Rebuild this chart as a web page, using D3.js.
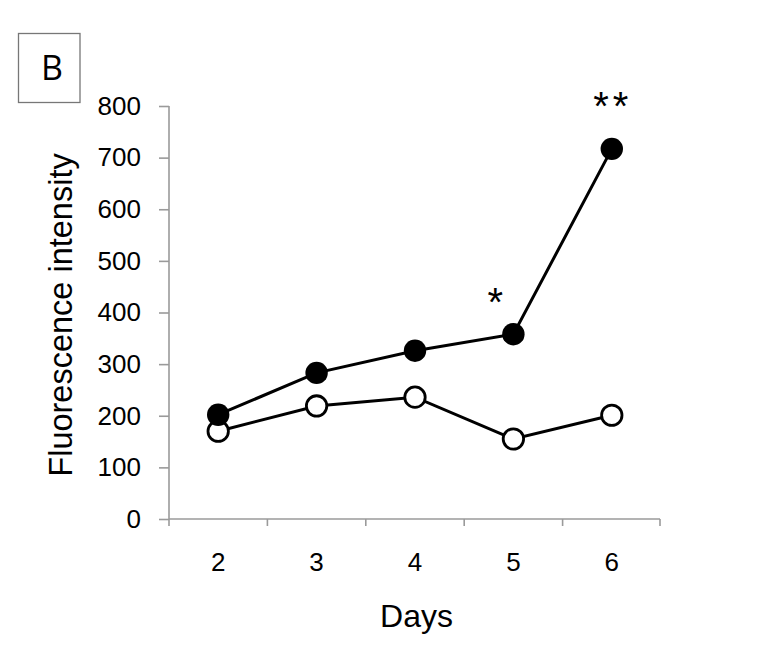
<!DOCTYPE html>
<html><head><meta charset="utf-8">
<script src="https://cdn.jsdelivr.net/npm/d3@7"></script>
<style>body{margin:0;background:#fff}</style>
</head><body>
<svg id="c" width="771" height="652"></svg>
<script>
const days = ["2","3","4","5","6"];
const filledValues = [202, 283, 326, 358, 717];
const openValues = [170, 219, 236, 155, 201];
const yTicks = [0,100,200,300,400,500,600,700,800];
const significance = [{day:"5", label:"*"},{day:"6", label:"**"}];

const svg = d3.select("#c");
const m = {l:169, r:661, t:106, b:519};
const x = d3.scaleBand().domain(days).range([m.l, m.r]);
const y = d3.scaleLinear().domain([0,800]).range([m.b, m.t]);
const font = "Liberation Sans, Arial, sans-serif";
const axisColor = "#9a9a9a";

// Y axis
const ya = svg.append("g").attr("transform",`translate(${m.l},0)`)
  .call(d3.axisLeft(y).tickValues(yTicks).tickSize(10).tickPadding(18));
ya.selectAll("path,line").attr("stroke",axisColor).attr("stroke-width",1.6);
ya.select(".domain").attr("d",`M0,${m.t}V${m.b}`);
ya.selectAll("text").attr("font-family",font).attr("font-size",26).attr("fill","#000");

// X axis
const xa = svg.append("g").attr("transform",`translate(0,${m.b})`)
  .call(d3.axisBottom(x).tickSize(0).tickPadding(34));
xa.selectAll(".tick line").remove();
xa.select(".domain").attr("d",`M${m.l},0H${m.r-1}`).attr("stroke",axisColor).attr("stroke-width",1.6);
xa.selectAll("text").attr("font-family",font).attr("font-size",26).attr("fill","#000");
const bounds = days.map(d=>x(d)).concat([m.r-1]);
xa.selectAll("line.bt").data(bounds).enter().append("line")
  .attr("x1",d=>d).attr("x2",d=>d).attr("y1",0).attr("y2",7)
  .attr("stroke",axisColor).attr("stroke-width",1.6);

const cx = d => x(d) + x.bandwidth()/2;
const line = d3.line().x((v,i)=>cx(days[i])).y(v=>y(v));

svg.append("path").attr("d", line(openValues)).attr("fill","none").attr("stroke","#000").attr("stroke-width",3);
svg.append("path").attr("d", line(filledValues)).attr("fill","none").attr("stroke","#000").attr("stroke-width",3);

svg.selectAll("circle.o").data(openValues).enter().append("circle")
  .attr("cx",(v,i)=>cx(days[i])).attr("cy",v=>y(v)).attr("r",10.2)
  .attr("fill","#fff").attr("stroke","#000").attr("stroke-width",2.8);
svg.selectAll("circle.f").data(filledValues).enter().append("circle")
  .attr("cx",(v,i)=>cx(days[i])).attr("cy",v=>y(v)).attr("r",11.2)
  .attr("fill","#000");

// significance
svg.selectAll("text.sig").data(significance).enter().append("text")
  .attr("x",d=> d.label.length>1 ? cx(d.day)+1 : cx(d.day)-18)
  .attr("y",d=> d.label.length>1 ? 120 : 316)
  .attr("text-anchor","middle").attr("font-family",font).attr("font-size",40)
  .attr("letter-spacing", d=> d.label.length>1 ? 4 : 0)
  .text(d=>d.label);

// axis titles
svg.append("text").attr("transform","translate(72,315) rotate(-90)")
  .attr("text-anchor","middle").attr("font-family",font).attr("font-size",32.5).text("Fluorescence intensity");
svg.append("text").attr("x",416.5).attr("y",627).attr("text-anchor","middle")
  .attr("font-family",font).attr("font-size",32).text("Days");

// panel label
svg.append("rect").attr("x",18.5).attr("y",33.5).attr("width",61.5).attr("height",69)
  .attr("fill","#fff").attr("stroke","#777").attr("stroke-width",1.3);
svg.append("text").attr("x",52).attr("y",79.5).attr("text-anchor","middle")
  .attr("font-family","Open Sans, sans-serif").attr("font-size",34).text("B");
</script>
</body></html>
